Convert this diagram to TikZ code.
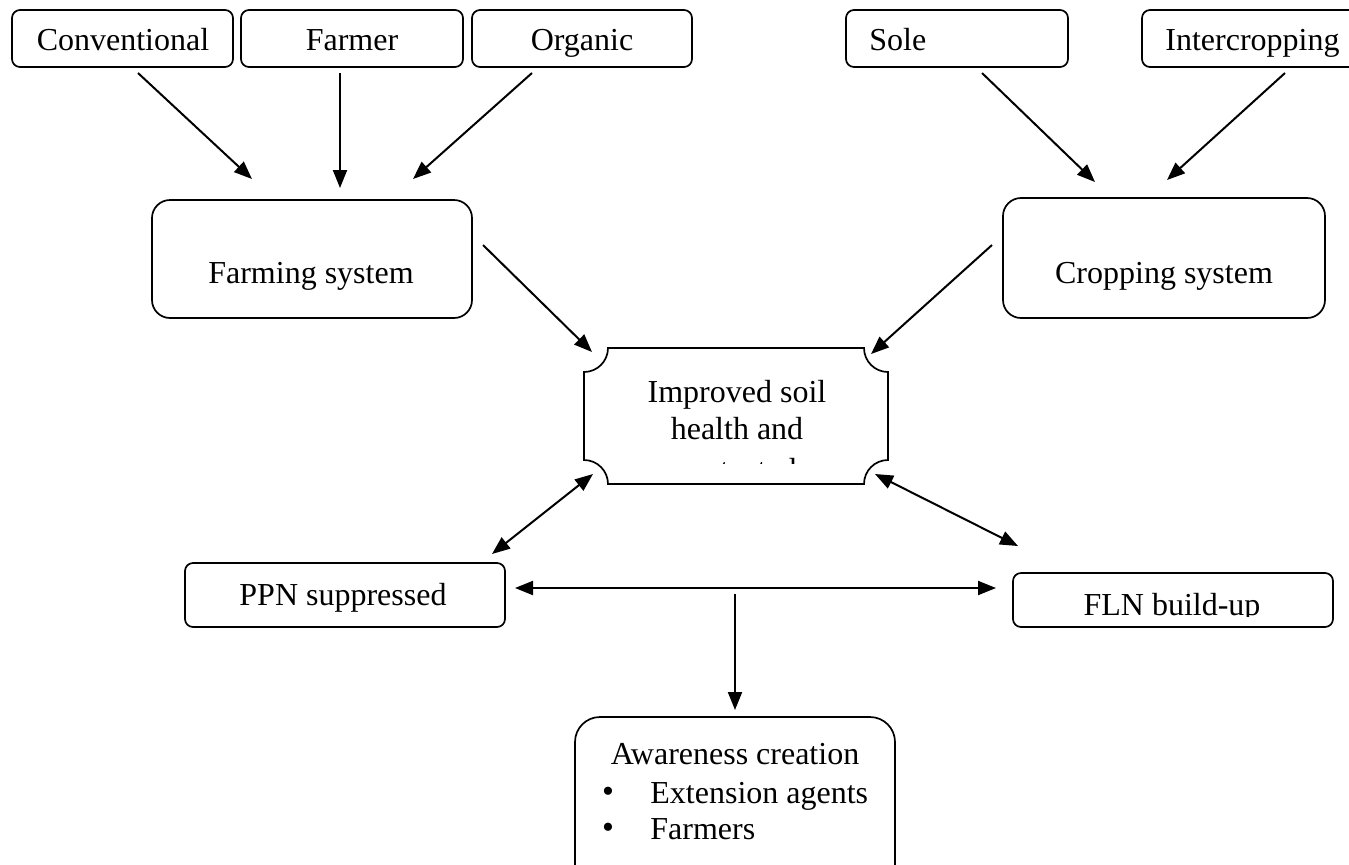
\documentclass[tikz,border=0pt]{standalone}
\usepackage{fontspec}
\setmainfont{Liberation Serif}
\usetikzlibrary{arrows.meta,fit}
\begin{document}
\begin{tikzpicture}[x=0.5pt,y=-0.5pt,
  box/.style={draw, line width=0.85pt, rounded corners=4pt, inner sep=0pt},
  bigbox/.style={box, rounded corners=9pt},
  lbl/.style={font=\fontsize{16}{19}\selectfont, anchor=base, inner sep=0pt},
  lbll/.style={lbl, anchor=base west},
  bul/.style={font=\fontsize{17}{17}\selectfont, anchor=center, inner sep=0pt},
  arr/.style={line width=1pt, -{Triangle[length=9pt,width=7pt]}},
  darr/.style={line width=1pt, {Triangle[length=9pt,width=7pt]}-{Triangle[length=9pt,width=7pt]}}]
\useasboundingbox (0,0) rectangle (1349,864);
\clip (0,0) rectangle (1349,864);
\fill[white] (0,0) rectangle (1349,864);

% top row
\node[box, fit={(12,10) (233,67)}] (conv) {};
\node[lbl] (convt) at (123,50) {Conventional};
\node[box, fit={(241,10) (463,67)}] (farmer) {};
\node[lbl] (farmert) at (352,50) {Farmer};
\node[box, fit={(472,10) (692,67)}] (org) {};
\node[lbl] (orgt) at (582,50) {Organic};
\node[box, fit={(846,10) (1068,67)}] (sole) {};
\node[lbll] (solet) at (869,50) {Sole};
\node[box, fit={(1142,10) (1380,67)}] (inter) {};
\node[lbll] (intert) at (1165,50) {Intercropping};

% systems
\node[bigbox, fit={(152,200) (472,318)}] (farming) {};
\node[lbl] (farmingt) at (311,283) {Farming system};
\node[bigbox, fit={(1003,198) (1325,318)}] (cropping) {};
\node[lbl] (croppingt) at (1164,283) {Cropping system};

% central plaque
\node[inner sep=0pt, fit={(584,348) (888,484)}] (soil) {};
\draw[line width=0.85pt] (608,348) -- (864,348) arc[start angle=180, end angle=90, radius=24]
  -- (888,460) arc[start angle=270, end angle=180, radius=24]
  -- (608,484) arc[start angle=0, end angle=-90, radius=24]
  -- (584,372) arc[start angle=90, end angle=0, radius=24] -- cycle;
\node[lbl] (soil1) at (737,402) {Improved soil};
\node[lbl] (soil2) at (737,439) {health and};
\begin{scope}
  \clip (584,348) rectangle (888,463);
  \node[lbl] (soil3) at (737,480) {protected};
\end{scope}

% PPN / FLN
\node[box, fit={(185,563) (505,627)}] (ppn) {};
\node[lbl] (ppnt) at (343,605) {PPN suppressed};
\node[box, fit={(1013,573) (1333,627)}] (fln) {};
\begin{scope}
  \clip (1013,573) rectangle (1333,616);
  \node[lbl] (flnt) at (1172,615) {FLN build-up};
\end{scope}

% awareness
\node[bigbox, rounded corners=12.5pt, fit={(575,717) (895,920)}] (aware) {};
\node[lbl] (awaret) at (735,764) {Awareness creation};
\node[bul] (b1) at (608,795) {•};
\node[lbll] (ext) at (650,803) {Extension agents};
\node[bul] (b2) at (608,831) {•};
\node[lbll] (farmers) at (650,839) {Farmers};

% connector end points
\coordinate (c1s) at (138,73);  \coordinate (c1e) at (252,179);
\coordinate (c2s) at (340,73);  \coordinate (c2e) at (340,188);
\coordinate (c3s) at (532,73);  \coordinate (c3e) at (413,179);
\coordinate (c4s) at (982,73);  \coordinate (c4e) at (1095,182);
\coordinate (c5s) at (1285,73); \coordinate (c5e) at (1167,180);
\coordinate (c6s) at (483,245); \coordinate (c6e) at (592,352);
\coordinate (c7s) at (992,245); \coordinate (c7e) at (871,354);
\coordinate (d1a) at (492,554); \coordinate (d1b) at (593,474);
\coordinate (d2a) at (875,474); \coordinate (d2b) at (1018,546);
\coordinate (d3a) at (515,588); \coordinate (d3b) at (996,588);
\coordinate (c8s) at (735,594); \coordinate (c8e) at (735,710);

\draw[arr] (c1s) -- (c1e);
\draw[arr] (c2s) -- (c2e);
\draw[arr] (c3s) -- (c3e);
\draw[arr] (c4s) -- (c4e);
\draw[arr] (c5s) -- (c5e);
\draw[arr] (c6s) -- (c6e);
\draw[arr] (c7s) -- (c7e);
\draw[darr] (d1a) -- (d1b);
\draw[darr] (d2a) -- (d2b);
\draw[darr] (d3a) -- (d3b);
\draw[arr] (c8s) -- (c8e);
\end{tikzpicture}
\end{document}
